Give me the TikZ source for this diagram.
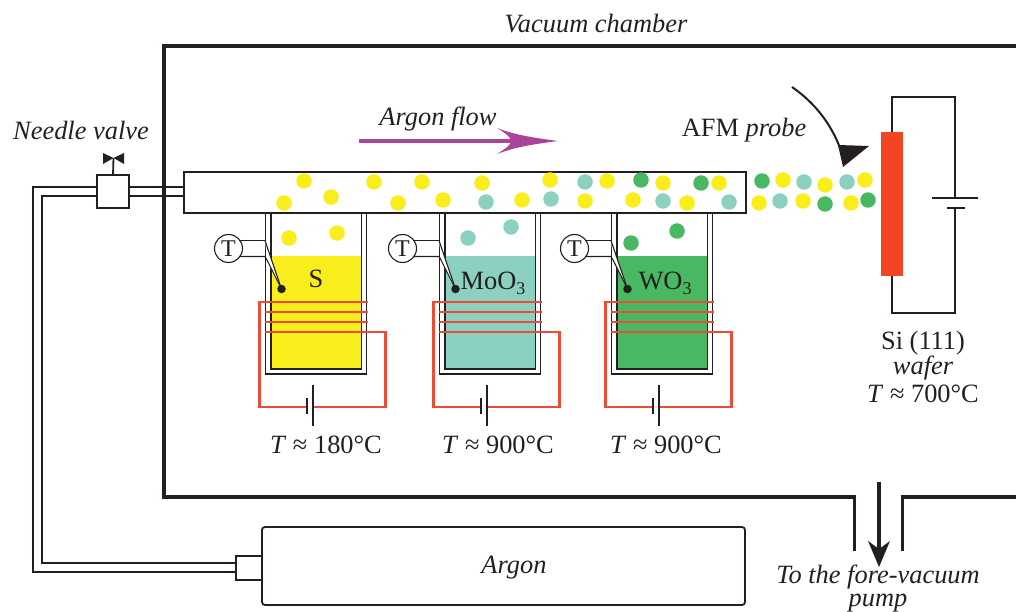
\documentclass[tikz,border=0pt]{standalone}
\usepackage{fontspec}
\setmainfont{Liberation Serif}
\definecolor{ink}{HTML}{231F20}
\definecolor{sy}{HTML}{F9ED1B}
\definecolor{st}{HTML}{8BD0C0}
\definecolor{sg}{HTML}{49B863}
\definecolor{hot}{HTML}{F04423}
\definecolor{wire}{HTML}{EE4B36}
\definecolor{flow}{HTML}{A9449A}
\tikzset{
  lab/.style={inner sep=0pt,anchor=base,text=ink,font=\fontsize{26.4}{28}\selectfont},
  ilab/.style={lab,font=\fontsize{26.4}{28}\selectfont\itshape},
  wall/.style={draw=ink,line width=1.8pt},
  thick wall/.style={draw=ink,line width=4pt,line cap=butt,line join=miter},
  neck/.style={draw=ink,line width=3pt},
  coil/.style={draw=wire,line width=2.3pt,line join=miter},
  dot/.style={circle,minimum size=15.5pt,inner sep=0pt,outer sep=0pt},
  boxn/.style={draw=ink,line width=1.8pt,inner sep=0pt,outer sep=0pt,fill=white},
}
\newcommand{\subthree}{\raisebox{-.22em}{\fontsize{18}{18}\selectfont 3}}
\begin{document}
\begin{tikzpicture}[x=1pt,y=-1pt]
\useasboundingbox (0,0) rectangle (1016,612);
% chamber
\coordinate (ca) at (854,551);
\coordinate (cb) at (854,497);
\coordinate (cc) at (164,497);
\coordinate (cd) at (164,46);
\coordinate (ce) at (1016,46);
\coordinate (cf) at (1016,497);
\coordinate (cg) at (902,497);
\coordinate (ch) at (902,551);
\draw[thick wall] (cb) -- (cc) -- (cd) -- (ce);
\draw[neck] (ca) -- ([yshift=2pt]cb);
\draw[thick wall] (cf) -- (cg);
\draw[neck] ([yshift=2pt]cg) -- (ch);
% vacuum arrow
\coordinate (va) at (879,482);
\coordinate (vb) at (879,552);
\draw[draw=ink,line width=3.5pt] (va) -- (vb);
\fill[ink] (879,567) -- (868,541) -- (879,549) -- (890,541) -- cycle;
% gas line nodes
\node[boxn,minimum width=32pt,minimum height=33pt,anchor=north west] (valve) at (97,175) {};
\node[boxn,minimum width=562pt,minimum height=41pt,anchor=north west] (tube) at (184,172) {};
\node[boxn,minimum width=483pt,minimum height=78pt,anchor=north west,rounded corners=3pt] (argon) at (262,527) {};
\node[boxn,minimum width=26pt,minimum height=24pt,anchor=north west] (adapter) at (236,556) {};
\coordinate (cornerA) at (33,572);
\coordinate (cornerB) at (42,563);
\draw[wall] ([yshift=4.5pt]valve.west) -| (cornerA) -- ([yshift=-4pt]adapter.west);
\draw[wall] ([yshift=-4.5pt]valve.west) -| (cornerB) -- ([yshift=5pt]adapter.west);
\draw[wall] ([yshift=4.5pt]valve.east) -- ([yshift=5.5pt]tube.west);
\draw[wall] ([yshift=-4.5pt]valve.east) -- ([yshift=-3.5pt]tube.west);
% valve handle
\coordinate (stem) at (113.5,158);
\draw[wall] (valve.north) -- (stem);
\fill[ink] (103,153) -- (113.5,158) -- (124,153) -- (124,164) -- (113.5,158) -- (103,164) -- cycle;
% crucibles
\foreach \dx/\liq/\i in {0/sy/1,174/st/2,346/sg/3}{
\begin{scope}[xshift=\dx pt]
  \fill[\liq] (271,256) rectangle (362,369);
  \draw[wall] (265.5,213) -- (265.5,374) -- (366.5,374) -- (366.5,213);
  \draw[wall] (271,213) -- (271,369) -- (361.5,369) -- (361.5,213);
  % thermocouple
  \node[circle,draw=ink,line width=1.1pt,minimum size=28pt,inner sep=0pt,fill=white,text=ink,font=\fontsize{24}{24}\selectfont] (tc\i) at (228.5,248.5) {T};
  \coordinate (ja\i) at (265,240.5);
  \coordinate (jb\i) at (265,256.5);
  \node[circle,fill=ink,minimum size=8.5pt,inner sep=0pt] (tip\i) at (281.5,289) {};
  \fill[white] (ja\i) -- (tip\i.center) -- (267.5,262) -- cycle;
  \draw[draw=ink,line width=1.1pt] (ja\i) -- (tip\i.center);
  \draw[draw=ink,line width=1.1pt] (267,260) -- (tip\i.center);
  \draw[draw=ink,line width=1.1pt] (tc\i) ++(11.5,-8) -- (ja\i);
  \draw[draw=ink,line width=1.1pt] (tc\i) ++(11.5,8) -- (jb\i) -- (267,260);
  % heater
  \coordinate (b\i) at (307,407);
  \coordinate (c\i) at (313,407);
  \draw[coil] (b\i) -- (259.5,407) -- (259.5,302) -- (367.5,302);
  \draw[coil] (265,312) -- (367.5,312);
  \draw[coil] (265,322) -- (367.5,322);
  \draw[coil] (265,332) -- (385.5,332) -- (385.5,407) -- (c\i);
  \draw[draw=ink,line width=1.9pt] (307,398) -- (307,414);
  \draw[draw=ink,line width=1.9pt] (313,385) -- (313,426);
\end{scope}
}
% particles
\foreach \x/\y/\c [count=\n] in {
284/203/sy,304/181/sy,331/197/sy,374/182/sy,398/203/sy,422/182/sy,443/200/sy,482/183/sy,
486/202/st,522/200/sy,551/199/st,550/180/sy,585/182/st,607/181/sy,585/201/sy,641/180/sg,
663/183/sy,633/200/sy,663/201/st,687/203/sy,701/183/sg,719/183/sy,729/202/st,
762/181/sg,783/180/sy,804/182/st,825/185/sy,847/182/st,865/180/sy,
759/203/sy,780/201/st,803/201/sy,825/204/sg,851/203/sy,868/200/sg,
289/238/sy,337/233/sy,468/238/st,511/227/st,631/243/sg,677/231/sg}{
  \node[dot,fill=\c] (p\n) at (\x,\y) {};
}
% wafer circuit
\node[fill=hot,minimum width=22pt,minimum height=144pt,inner sep=0pt,outer sep=0pt,anchor=north west] (wafer) at (881,132) {};
\coordinate (wt) at (955,97);
\coordinate (wb) at (955,313);
\node[inner sep=0pt,minimum size=0pt] (batA) at (955,198) {};
\node[inner sep=0pt,minimum size=0pt] (batB) at (955,208) {};
\draw[wall,line width=2pt] (wafer.north) |- (wt) -- (batA.center);
\draw[wall,line width=2pt] (wafer.south) |- (wb) -- (batB.center);
\draw[draw=ink,line width=2pt] (932,198) -- (978,198);
\draw[draw=ink,line width=2pt] (947,208) -- (965,208);
% AFM probe
\coordinate (pa) at (792,87);
\coordinate (pb) at (840,148);
\draw[draw=ink,line width=2pt] (pa) .. controls (815,103) and (831,124) .. (pb);
\fill[ink] (838,145) -- (869,146) -- (843,167) -- cycle;
% argon flow
\coordinate (fa) at (359,141);
\coordinate (fb) at (512,141);
\draw[draw=flow,line width=3.5pt] (fa) -- (fb);
\fill[flow] (558,141) .. controls (535,144) and (515,147) .. (497,154)
  .. controls (505,149) and (511,145) .. (511,141)
  .. controls (511,137) and (505,133) .. (497,128)
  .. controls (515,135) and (535,138) .. (558,141) -- cycle;
% labels
\node[ilab] (l1) at (596,33) {Vacuum chamber};
\node[ilab] (l2) at (81,140) {Needle valve};
\node[ilab] (l3) at (438,126) {Argon flow};
\node[lab] (l4) at (744,137) {AFM \textit{probe}};
\node[lab] (l5) at (316,287) {S};
\node[lab] (l6) at (493,289) {MoO\subthree};
\node[lab] (l7) at (665,289) {WO\subthree};
\node[lab] (l8) at (326,453) {\textit{T} ≈ 180°C};
\node[lab] (l9) at (498,453) {\textit{T} ≈ 900°C};
\node[lab] (l10) at (666,453) {\textit{T} ≈ 900°C};
\node[lab] (l11) at (923,349) {Si (111)};
\node[ilab] (l12) at (923,374) {wafer};
\node[lab] (l13) at (923,402) {\textit{T} ≈ 700°C};
\node[ilab] (l14) at (514,573) {Argon};
\node[ilab,anchor=south,align=center,font=\fontsize{26.4}{23}\selectfont\itshape] (l15) at (878,612) {To the fore-vacuum\\pump};
\end{tikzpicture}
\end{document}
